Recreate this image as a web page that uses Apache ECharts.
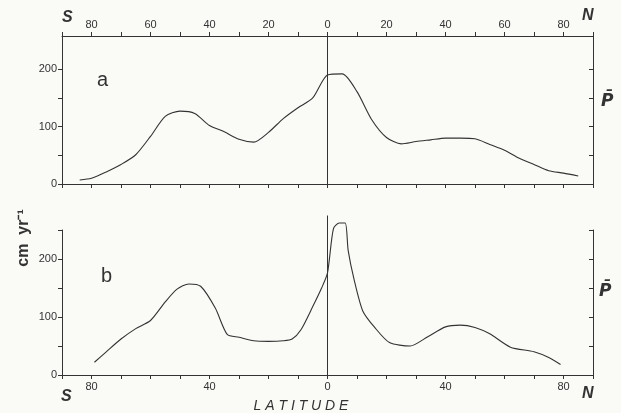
<!DOCTYPE html>
<html lang="en">
<head>
<meta charset="UTF-8">
<title>Zonal precipitation</title>
<script src="https://cdn.jsdelivr.net/npm/echarts@6/dist/echarts.min.js"></script>
<style>
    body { margin: 0; background: #fafaf7; }
    #container { width: 621px; height: 413px; }
</style>
</head>
<body>
<div id="container"></div>
<script type="text/javascript">
    // panel a
    var latA = [-84, -80, -75, -70, -65, -60, -55, -50, -45, -40, -35, -30, -25, -20, -15, -10, -5, 0,
        5, 10, 15, 20, 25, 30, 35, 40, 45, 50, 55, 60, 65, 70, 75, 80, 85];
    var precipA = [7, 10, 21, 34, 51, 83, 118, 127, 123, 102, 91, 78, 73, 90, 114, 133, 150, 190,
        192, 161, 112, 81, 70, 74, 77, 80, 80, 79, 69, 59, 45, 34, 23, 19, 14];
    // panel b
    var latB = [-79, -75, -70, -65, -60, -55, -51, -47, -43, -38, -34, -30, -25, -20, -15, -12, -9, -5, -2, 0,
        2, 4, 6, 7, 9, 12, 16, 21, 28, 34, 40, 45, 50, 55, 62, 70, 75, 79];
    var precipB = [22, 40, 62, 80, 94, 126, 148, 157, 153, 115, 70, 65, 59, 58, 59, 62, 78, 118, 150, 176,
        252, 262, 262, 215, 165, 110, 82, 56, 50, 66, 83, 86, 82, 71, 48, 40, 30, 18];
    // equator line heights
    var equatorA = [0, 258];
    var equatorB = [0, 275];
    // tick positions
    var ticksA = [0, 50, 100, 150, 200];
    var ticksB = [0, 50, 100, 150, 200, 250];
    var labelsY = [0, 100, 200];

    var ink = '#333';
    var font = 'Liberation Sans, Arial, sans-serif';

    function pairs(xs, ys) {
        return xs.map(function (x, i) { return [x, ys[i]]; });
    }

    function latAxis(grid, pos, step, showLabel) {
        return {
            type: 'value', gridIndex: grid, position: pos,
            min: -90, max: 90, interval: 10,
            axisLine: { show: true, onZero: false, lineStyle: { color: ink, width: 1 } },
            axisTick: { show: true, length: 4, lineStyle: { color: ink } },
            splitLine: { show: false },
            axisLabel: {
                show: showLabel, color: ink, fontSize: 11, fontFamily: font, margin: 6,
                formatter: function (v) { return v % step === 0 && Math.abs(v) < 90 ? Math.abs(v) : ''; }
            }
        };
    }

    function valAxis(grid, pos, max, ticks, showLabel) {
        return {
            type: 'value', gridIndex: grid, position: pos,
            min: 0, max: max, interval: 50,
            axisLine: { show: true, onZero: false, lineStyle: { color: ink, width: 1 } },
            axisTick: { show: true, inside: pos === 'right', length: 4, customValues: ticks, lineStyle: { color: ink } },
            splitLine: { show: false },
            axisLabel: {
                show: showLabel, color: ink, fontSize: 11, fontFamily: font, margin: 5,
                customValues: labelsY
            }
        };
    }

    var dom = document.getElementById('container');
    var myChart = echarts.init(dom, null, { renderer: 'canvas' });

    var option = {
        animation: false,
        grid: [
            { left: 62, right: 28, top: 36, height: 148 },
            { left: 62, right: 28, top: 230, height: 145 }
        ],
        xAxis: [
            latAxis(0, 'top', 20, true),
            latAxis(0, 'bottom', 20, false),
            latAxis(1, 'bottom', 40, true)
        ],
        yAxis: [
            valAxis(0, 'left', 258, ticksA, true),
            valAxis(0, 'right', 258, ticksA, false),
            valAxis(1, 'left', 250, ticksB, true),
            valAxis(1, 'right', 250, ticksB, false)
        ],
        series: [
            {
                type: 'line', xAxisIndex: 0, yAxisIndex: 0,
                data: pairs(latA, precipA), smooth: 0.25, symbol: 'none',
                lineStyle: { color: ink, width: 1.1 }
            },
            {
                type: 'line', xAxisIndex: 0, yAxisIndex: 0,
                data: pairs([0, 0], equatorA), symbol: 'none',
                lineStyle: { color: ink, width: 1 }
            },
            {
                type: 'line', xAxisIndex: 2, yAxisIndex: 2,
                data: pairs(latB, precipB), smooth: 0.25, symbol: 'none', clip: false,
                lineStyle: { color: ink, width: 1.1 }
            },
            {
                type: 'line', xAxisIndex: 2, yAxisIndex: 2,
                data: pairs([0, 0], equatorB), symbol: 'none', clip: false,
                lineStyle: { color: ink, width: 1 }
            }
        ],
        graphic: [
            { type: 'text', left: 62, top: 10, style: { text: 'S', font: 'italic bold 16px ' + font, fill: ink } },
            { type: 'text', left: 582, top: 8, style: { text: 'N', font: 'italic bold 16px ' + font, fill: ink } },
            { type: 'text', left: 97, top: 70, style: { text: 'a', font: '20px ' + font, fill: ink } },
            { type: 'text', left: 101, top: 266, style: { text: 'b', font: '20px ' + font, fill: ink } },
            { type: 'text', left: 601, top: 93, style: { text: 'P\u0304', font: 'italic bold 17px DejaVu Sans', fill: ink } },
            { type: 'text', left: 599, top: 283, style: { text: 'P\u0304', font: 'italic bold 17px DejaVu Sans', fill: ink } },
            {
                type: 'text', x: 24, y: 238, rotation: Math.PI / 2,
                style: { text: 'cm  yr\u207b\u00b9', font: 'bold 16px ' + font, fill: ink, textAlign: 'center', textVerticalAlign: 'middle' }
            },
            { type: 'text', left: 61, top: 389, style: { text: 'S', font: 'italic bold 16px ' + font, fill: ink } },
            { type: 'text', left: 582, top: 386, style: { text: 'N', font: 'italic bold 16px ' + font, fill: ink } },
            {
                type: 'text', x: 301, y: 406,
                style: { text: 'L A T I T U D E', font: 'italic 14px ' + font, fill: ink, textAlign: 'center', textVerticalAlign: 'middle' }
            }
        ]
    };
    myChart.setOption(option);
    window.addEventListener('resize', myChart.resize);
</script>
</body>
</html>
